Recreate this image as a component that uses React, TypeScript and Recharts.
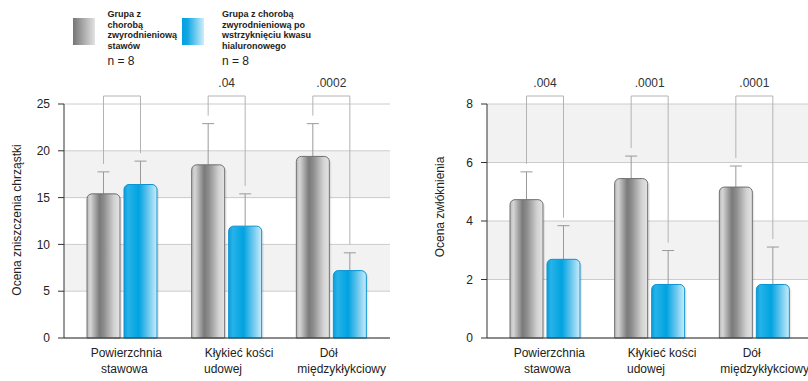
import { BarChart, Bar, XAxis, YAxis, CartesianGrid, Rectangle } from 'recharts';

const categories = [
  ['Powierzchnia', 'stawowa'],
  ['Kłykieć kości', 'udowej'],
  ['Dół', 'międzykłykciowy'],
];

// cartilage damage score (left panel)
const cartilageControl = [15.4, 18.5, 19.4];
const cartilageControlErr = [2.35, 4.4, 3.5];
const cartilageTreated = [16.4, 11.95, 7.2];
const cartilageTreatedErr = [2.5, 3.45, 1.9];
const cartilageP = ['', '.04', '.0002'];
const cartilageTicks = [0, 5, 10, 15, 20, 25];

// fibrosis score (right panel)
const fibrosisControl = [4.73, 5.45, 5.16];
const fibrosisControlErr = [0.95, 0.77, 0.72];
const fibrosisTreated = [2.69, 1.83, 1.83];
const fibrosisTreatedErr = [1.15, 1.16, 1.28];
const fibrosisP = ['.004', '.0001', '.0001'];
const fibrosisTicks = [0, 2, 4, 6, 8];

const controlLegend = ['Grupa z', 'chorobą', 'zwyrodnieniową', 'stawów'];
const treatedLegend = ['Grupa z chorobą', 'zwyrodnieniową po', 'wstrzyknięciu kwasu', 'hialuronowego'];
const groupSize = 'n = 8';

const FONT = '"Liberation Sans", Arial, sans-serif';
const BAR_GAP = 4;
// per-category nudges of the two tick lines (labels in the original are not centred)
const TICK_SHIFT = [[4, 2], [12, -4], [-3, 10]];

function buildRows(c: number[], ce: number[], t: number[], te: number[], p: string[]) {
  return categories.map((lines, i) => ({
    name: lines.join(' '),
    control: c[i],
    controlErr: ce[i],
    treated: t[i],
    treatedErr: te[i],
    p: p[i],
  }));
}

const cartilageRows = buildRows(cartilageControl, cartilageControlErr, cartilageTreated, cartilageTreatedErr, cartilageP);
const fibrosisRows = buildRows(fibrosisControl, fibrosisControlErr, fibrosisTreated, fibrosisTreatedErr, fibrosisP);

function CategoryTick(props: any) {
  const { x, y, index } = props;
  const lines = categories[index] ?? [];
  const shift = TICK_SHIFT[index] ?? [0, 0];
  return (
    <g>
      {lines.map((l, i) => (
        <text key={i} x={x + shift[i]} y={y + 19 + i * 15.5} textAnchor="middle" fontSize={12} fill="#222" fontFamily={FONT}>
          {l}
        </text>
      ))}
    </g>
  );
}

function AxisTitle(props: any) {
  const { viewBox, text, cy } = props;
  const x = (viewBox?.x ?? 4) + 12.5;
  return (
    <text x={x} y={cy} transform={`rotate(-90, ${x}, ${cy})`} textAnchor="middle" dominantBaseline="central"
      fontSize={12} fill="#222" fontFamily={FONT}>
      {text}
    </text>
  );
}

function GroupBar(props: any) {
  const { x, y, width, height, payload, kind, max } = props;
  if (!payload || !width || !height) return null;
  const value = payload[kind];
  const err = payload[kind + 'Err'];
  const base = y + height;
  const unit = height / value;
  const cx = x + width / 2;
  const errY = base - (value + err) * unit;

  let bracket = null;
  if (kind === 'control') {
    const otherCx = cx + width + BAR_GAP;
    const otherErrY = base - (payload.treated + payload.treatedErr) * unit;
    const top = base - max * unit - 8;
    bracket = (
      <g>
        <path d={`M${cx},${errY - 8}V${top}H${otherCx}V${otherErrY - 8}`} fill="none" stroke="#b3b3b3" strokeWidth={1} />
        {payload.p ? (
          <text x={(cx + otherCx) / 2} y={top - 13} textAnchor="middle" dominantBaseline="central"
            fontSize={12} fill="#333" fontFamily={FONT}>
            {payload.p}
          </text>
        ) : null}
      </g>
    );
  }

  return (
    <g>
      <line x1={cx} y1={y} x2={cx} y2={errY} stroke="#999" strokeWidth={1} />
      <line x1={cx - 6} y1={errY} x2={cx + 6} y2={errY} stroke="#999" strokeWidth={1} />
      <Rectangle x={x + 2} y={y + 2} width={width} height={height - 2} radius={[5, 5, 0, 0]} fill="#000" fillOpacity={0.08} />
      <Rectangle x={x} y={y} width={width} height={height} radius={[5, 5, 0, 0]}
        fill={`url(#${kind}Grad)`} stroke={kind === 'control' ? '#707070' : '#0a93d3'} strokeWidth={1} />
      {bracket}
    </g>
  );
}

function Panel({ rows, max, ticks, title, titleY, stripes }: any) {
  return (
    <BarChart width={400} height={381} data={rows} margin={{ top: 104, right: 10, bottom: 3, left: 4 }}
      barGap={BAR_GAP} barSize={33} style={{ overflow: 'visible' }}>
      <CartesianGrid vertical={false} stroke="#cccccc" horizontalFill={stripes} fillOpacity={1} />
      <XAxis dataKey="name" axisLine={{ stroke: '#333' }} tickLine={false} tickSize={0} tickMargin={0}
        height={40} padding={{ left: 6, right: 6 }} interval={0} tick={<CategoryTick />} />
      <YAxis domain={[0, max]} ticks={ticks} width={60} axisLine={{ stroke: '#333' }} tickLine={{ stroke: '#333' }}
        tickSize={6} tickMargin={8} tick={{ fill: '#222', fontSize: 12, fontFamily: FONT }}
        label={<AxisTitle text={title} cy={titleY} />} />
      <Bar dataKey="control" isAnimationActive={false} shape={<GroupBar kind="control" max={max} />} />
      <Bar dataKey="treated" isAnimationActive={false} shape={<GroupBar kind="treated" max={max} />} />
    </BarChart>
  );
}

function LegendText({ lines, left }: { lines: string[]; left: number }) {
  return (
    <div style={{ position: 'absolute', left, top: 9, fontFamily: FONT, color: '#222' }}>
      {lines.map((l) => (
        <div key={l} style={{ fontSize: 9, fontWeight: 700, lineHeight: '10.5px', whiteSpace: 'nowrap' }}>{l}</div>
      ))}
      <div style={{ fontSize: 12, lineHeight: '14px', marginTop: 3 }}>{groupSize}</div>
    </div>
  );
}

export default function App() {
  return (
    <div style={{ position: 'absolute', left: 0, top: 0, width: 808, height: 381, overflow: 'hidden', background: '#fff', fontFamily: FONT }}>
      <svg width={0} height={0} style={{ position: 'absolute' }}>
        <defs>
          <linearGradient id="controlGrad" x1="0" y1="0" x2="1" y2="0">
            <stop offset="0%" stopColor="#b8b8b8" />
            <stop offset="10%" stopColor="#d6d6d6" />
            <stop offset="38%" stopColor="#7a7a7a" />
            <stop offset="52%" stopColor="#8e8e8e" />
            <stop offset="82%" stopColor="#d2d2d2" />
            <stop offset="100%" stopColor="#e4e4e4" />
          </linearGradient>
          <linearGradient id="treatedGrad" x1="0" y1="0" x2="1" y2="0">
            <stop offset="0%" stopColor="#0a9ddb" />
            <stop offset="12%" stopColor="#27b3e9" />
            <stop offset="45%" stopColor="#00a3e0" />
            <stop offset="75%" stopColor="#6fc9ef" />
            <stop offset="100%" stopColor="#cbecf9" />
          </linearGradient>
          <linearGradient id="controlSwatch" x1="0" y1="0" x2="1" y2="0">
            <stop offset="0%" stopColor="#767676" />
            <stop offset="100%" stopColor="#e2e2e2" />
          </linearGradient>
          <linearGradient id="treatedSwatch" x1="0" y1="0" x2="1" y2="0">
            <stop offset="0%" stopColor="#00a0e0" />
            <stop offset="25%" stopColor="#10a8e4" />
            <stop offset="100%" stopColor="#cfeefa" />
          </linearGradient>
        </defs>
      </svg>

      <svg width={22} height={27} style={{ position: 'absolute', left: 73, top: 18 }}>
        <rect width={22} height={27} fill="url(#controlSwatch)" />
      </svg>
      <LegendText lines={controlLegend} left={107.5} />
      <svg width={22} height={27} style={{ position: 'absolute', left: 182, top: 18 }}>
        <rect width={22} height={27} fill="url(#treatedSwatch)" />
      </svg>
      <LegendText lines={treatedLegend} left={222} />

      <div style={{ position: 'absolute', left: 0, top: 0 }}>
        <Panel rows={cartilageRows} max={25} ticks={cartilageTicks} title="Ocena zniszczenia chrząstki" titleY={220}
          stripes={['#ffffff', '#f2f2f2']} />
      </div>
      <div style={{ position: 'absolute', left: 423, top: 0 }}>
        <Panel rows={fibrosisRows} max={8} ticks={fibrosisTicks} title="Ocena zwłóknienia" titleY={207}
          stripes={['#f2f2f2', '#ffffff']} />
      </div>
    </div>
  );
}
